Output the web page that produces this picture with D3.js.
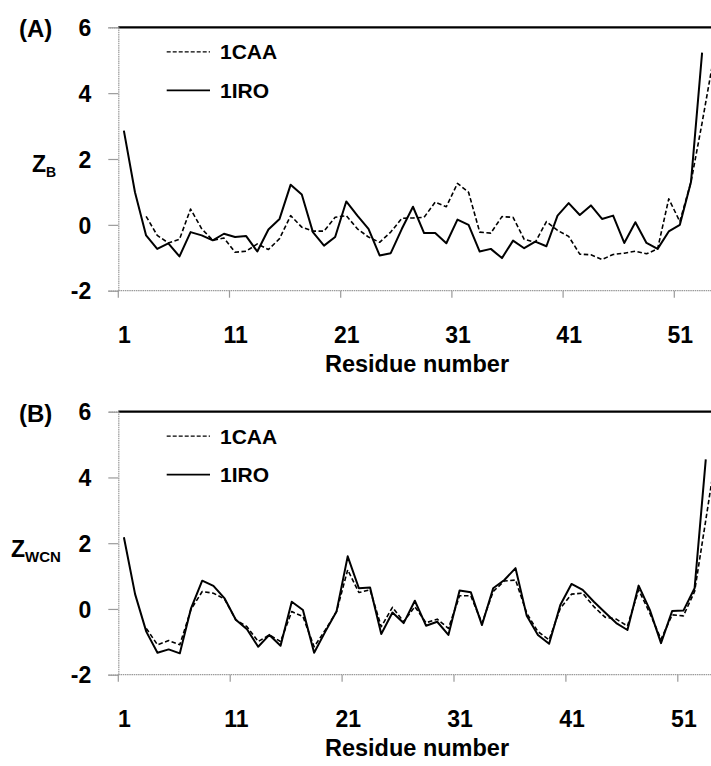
<!DOCTYPE html>
<html>
<head>
<meta charset="utf-8">
<script src="https://cdn.jsdelivr.net/npm/d3@7"></script>
<style>
  html, body { margin: 0; padding: 0; background: #fff; }
  svg { display: block; font-family: "Liberation Sans", Arial, sans-serif; }
</style>
</head>
<body>
<svg id="chart" width="711" height="766"></svg>
<script>
// ---------- data ----------
const residues = d3.range(1, 57);              // category slots (residue numbers)
const xTickLabels = [1, 11, 21, 31, 41, 51];
const yTicks = [-2, 0, 2, 4, 6];
const seriesNames = ["1CAA", "1IRO"];

// Panel A : Z_B
const zB_1IRO = [2.86, 0.99, -0.32, -0.73, -0.56, -0.96, -0.22, -0.32, -0.47, -0.27,
  -0.37, -0.34, -0.81, -0.14, 0.18, 1.22, 0.92, -0.22, -0.63, -0.37,
  0.71, 0.28, -0.12, -0.93, -0.86, -0.12, 0.55, -0.25, -0.25, -0.56,
  0.16, 0.00, -0.81, -0.73, -1.01, -0.48, -0.71, -0.51, -0.65, 0.28,
  0.66, 0.30, 0.59, 0.18, 0.28, -0.55, 0.08, -0.55, -0.73, -0.20,
  0.00, 1.30, 5.23];
const zB_1CAA = [null, null, 0.26, -0.32, -0.55, -0.44, 0.48, -0.12, -0.47, -0.40,
  -0.83, -0.80, -0.58, -0.75, -0.42, 0.28, -0.07, -0.19, -0.19, 0.23,
  0.28, -0.12, -0.37, -0.53, -0.22, 0.20, 0.21, 0.23, 0.69, 0.55,
  1.26, 0.99, -0.22, -0.25, 0.25, 0.23, -0.44, -0.53, 0.10, -0.17,
  -0.35, -0.89, -0.91, -1.05, -0.90, -0.86, -0.80, -0.88, -0.73, 0.79,
  0.10, 1.30, 3.10, 5.00];

// Panel B : Z_WCN
const zWCN_1IRO = [2.18, 0.45, -0.69, -1.33, -1.23, -1.35, 0.02, 0.86, 0.70, 0.32,
  -0.33, -0.62, -1.15, -0.79, -1.12, 0.22, -0.03, -1.33, -0.69, -0.08,
  1.60, 0.63, 0.65, -0.76, -0.11, -0.43, 0.25, -0.51, -0.39, -0.79,
  0.56, 0.51, -0.49, 0.63, 0.88, 1.24, -0.21, -0.79, -1.06, 0.12,
  0.76, 0.58, 0.22, -0.11, -0.43, -0.64, 0.71, -0.03, -1.04, -0.06,
  -0.05, 0.63, 4.55];
const zWCN_1CAA = [null, null, -0.59, -1.09, -0.96, -1.09, -0.01, 0.53, 0.48, 0.30,
  -0.33, -0.54, -0.99, -0.79, -0.99, -0.08, -0.23, -1.15, -0.64, -0.08,
  1.19, 0.50, 0.58, -0.54, 0.05, -0.39, 0.07, -0.42, -0.31, -0.59,
  0.40, 0.40, -0.43, 0.53, 0.85, 0.88, -0.13, -0.69, -0.94, 0.02,
  0.45, 0.48, 0.07, -0.25, -0.31, -0.52, 0.58, -0.13, -0.92, -0.18,
  -0.21, 0.53, 2.70, 4.90];

// ---------- drawing ----------
const svg = d3.select("#chart");
svg.append("rect").attr("width", 711).attr("height", 766).attr("fill", "#fff");

function panel(cfg) {
  const g = svg.append("g");
  const left = 118.3;
  const x = d3.scaleBand().domain(residues)
    .range([left, left + residues.length * cfg.step]).paddingInner(0).paddingOuter(0);
  const y = d3.scaleLinear().domain([-2, 6]).range([cfg.bottom, cfg.top]);
  const W = 711;

  // top frame line
  g.append("line").attr("x1", left).attr("x2", W + 5)
    .attr("y1", y(6)).attr("y2", y(6))
    .attr("stroke", "#000").attr("stroke-width", 2.2);

  // y axis
  const yAxis = d3.axisLeft(y).tickValues(yTicks).tickSize(10).tickFormat(d => String(d));
  const ya = g.append("g").attr("transform", `translate(${left},0)`).call(yAxis);
  ya.select(".domain").attr("stroke", "#9a9a9a").attr("stroke-width", 1.2).attr("stroke-dasharray", "1.5,0.7");
  ya.selectAll(".tick line").attr("stroke", "#9a9a9a").attr("stroke-width", 1.2);
  ya.selectAll(".tick text").attr("x", -27).attr("dy", "0.36em")
    .attr("font-size", 23).attr("font-weight", "bold").attr("fill", "#000")
    .attr("font-family", "'Liberation Sans', Arial, sans-serif");

  // x axis
  const xa = g.append("g");
  xa.append("line").attr("x1", left).attr("x2", W + 5)
    .attr("y1", y(-2)).attr("y2", y(-2))
    .attr("stroke", "#9a9a9a").attr("stroke-width", 1.2).attr("stroke-dasharray", "1.5,0.7");
  xTickLabels.forEach(t => {
    const bx = x(t);
    xa.append("line").attr("x1", bx).attr("x2", bx)
      .attr("y1", y(-2)).attr("y2", y(-2) + 7)
      .attr("stroke", "#9a9a9a").attr("stroke-width", 1.2);
    xa.append("text").attr("x", bx + x.bandwidth() / 2 + 0.5).attr("y", y(-2) + 52.5)
      .attr("text-anchor", "middle").attr("font-size", 23).attr("font-weight", "bold")
      .text(t);
  });
  g.append("text").attr("x", 417).attr("y", y(-2) + 81.5)
    .attr("text-anchor", "middle").attr("font-size", 23.5).attr("font-weight", "bold")
    .text("Residue number");

  // panel label
  g.append("text").attr("x", 19).attr("y", y(6) + 10)
    .attr("font-size", 24).attr("font-weight", "bold").text(cfg.label);

  // y label with subscript
  const yl = g.append("text").attr("x", cfg.zx).attr("y", cfg.zy)
    .attr("font-size", 23).attr("font-weight", "bold");
  yl.append("tspan").text("Z");
  yl.append("tspan").attr("font-size", cfg.subSize).attr("dy", 5).text(cfg.sub);

  // series lines
  const line = d3.line()
    .defined(d => d.v != null)
    .x(d => x(d.r) + x.bandwidth() / 2)
    .y(d => y(d.v));
  const toPts = arr => arr.map((v, i) => ({ r: residues[i], v: v }));

  g.append("path").datum(toPts(cfg.caa)).attr("d", line)
    .attr("fill", "none").attr("stroke", "#000").attr("stroke-width", 1.6)
    .attr("stroke-dasharray", "4.5,2.5").attr("stroke-linejoin", "round");
  g.append("path").datum(toPts(cfg.iro)).attr("d", line)
    .attr("fill", "none").attr("stroke", "#000").attr("stroke-width", 2)
    .attr("stroke-linejoin", "round");

  // legend
  const lg = g.append("g");
  const ly = [cfg.top + 24.5, cfg.top + 63];
  seriesNames.forEach((name, i) => {
    lg.append("line").attr("x1", 166.7).attr("x2", 210)
      .attr("y1", ly[i]).attr("y2", ly[i])
      .attr("stroke", "#000").attr("stroke-width", i === 0 ? 1.3 : 1.8)
      .attr("stroke-dasharray", i === 0 ? "4,2" : null);
    lg.append("text").attr("x", 220).attr("y", ly[i] + 7.5)
      .attr("font-size", 21).attr("font-weight", "bold").text(name);
  });
}

panel({ top: 27.3, bottom: 290.7, step: 11.12, label: "(A)", sub: "B", subSize: 14,
        zx: 32, zy: 172, iro: zB_1IRO, caa: zB_1CAA });
panel({ top: 411.7, bottom: 674.7, step: 11.19, label: "(B)", sub: "WCN", subSize: 15,
        zx: 11, zy: 557, iro: zWCN_1IRO, caa: zWCN_1CAA });
</script>
</body>
</html>
